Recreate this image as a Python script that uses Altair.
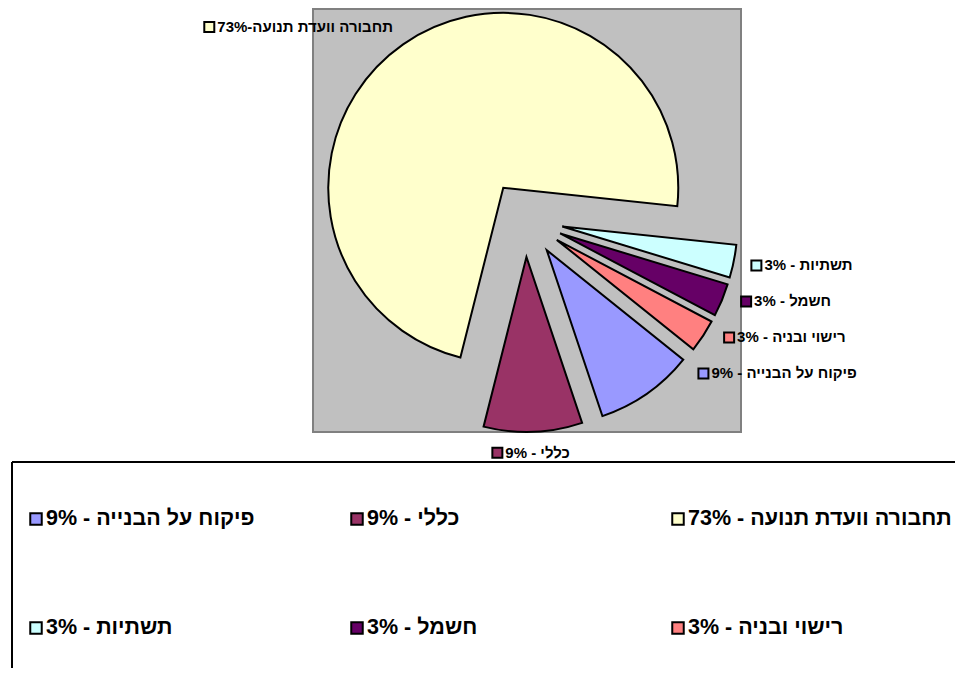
import math
import altair as alt
import pandas as pd

# ---- data ----
categories = ["תחבורה וועדת תנועה", "כללי", "פיקוח על הבנייה", "רישוי ובניה", "חשמל", "תשתיות"]
values = [24, 3, 3, 1, 1, 1]
colors = ["#FFFFCC", "#993366", "#9999FF", "#FF8080", "#660066", "#CCFFFF"]
data_labels = ["73%-תחבורה וועדת תנועה", "9% - כללי", "9% - פיקוח על הבנייה",
               "3% - רישוי ובניה", "3% - חשמל", "3% - תשתיות"]

total = sum(values)
pcts = [round(100 * v / total) for v in values]
legend_labels = [f"{p}% - {c}" for p, c in zip(pcts, categories)]

df = pd.DataFrame({
    "order": list(range(len(categories))),
    "category": categories,
    "value": values,
    "data_label": data_labels,
    "legend_label": legend_labels,
})

# ---- layout constants (pixels in chart space) ----
W, H = 947, 660
CX, CY = 517, 211          # pie centre
R = 175                    # pie radius
EXPLODE = 38               # slice explosion distance
A0 = math.radians(96)      # first slice starts here, drawn counter-clockwise
LR = 196                   # label distance from exploded centre
RL2 = 236                  # right-side stacked label circle
STEP = 36                  # right-side label spacing
CHAR_W = 7.9
FONT = "Arial, Liberation Sans, DejaVu Sans, sans-serif"

base = (
    alt.Chart(df)
    .transform_joinaggregate(total="sum(value)")
    .transform_window(cum_end="sum(value)", sort=[alt.SortField("order", order="ascending")], frame=[None, 0])
    .transform_calculate(cum_start="datum.cum_end - datum.value")
    .transform_calculate(mid=f"{A0} - PI*(datum.cum_start + datum.cum_end)/datum.total")
    .transform_calculate(
        cx=f"{CX} + {EXPLODE}*sin(datum.mid)",
        cy=f"{CY} - {EXPLODE}*cos(datum.mid)",
    )
    .transform_calculate(
        lx_nat=f"datum.cx + {LR}*sin(datum.mid)",
        ly_nat=f"datum.cy - {LR}*cos(datum.mid)",
        side="sin(datum.mid) > 0.2 ? 'R' : (sin(datum.mid) < -0.2 ? 'L' : 'C')",
        tw=f"length(datum.data_label)*{CHAR_W}",
    )
    .transform_window(
        rank="row_number()", y_first="first_value(ly_nat)",
        groupby=["side"], sort=[alt.SortField("ly_nat", order="ascending")], frame=[None, None],
    )
    .transform_calculate(
        ly=f"datum.side == 'R' ? datum.y_first + (datum.rank - 1)*{STEP} : datum.ly_nat"
    )
    .transform_calculate(
        box_left=(
            f"datum.side == 'R' ? ({CX} + sqrt({RL2}*{RL2} - pow(datum.ly - {CY}, 2)) - 6)"
            f" : (datum.side == 'L' ? datum.lx_nat - datum.tw - 14 : datum.lx_nat - (datum.tw + 14)/2)"
        )
    )
    .transform_calculate(sq_x="datum.box_left + 6", tx_x="datum.box_left + 14")
)

color = alt.Color("category:N", scale=alt.Scale(domain=categories, range=colors), legend=None)

one = pd.DataFrame({"k": [0]})
plot_bg = alt.Chart(one).mark_rect(fill="#C0C0C0", stroke="#808080", strokeWidth=2).encode(
    x=alt.value(305), x2=alt.value(733), y=alt.value(1), y2=alt.value(424)
)
# legend frame: only the top and left edges are inside the picture
legend_fill = alt.Chart(one).mark_rect(fill="white").encode(
    x=alt.value(4), x2=alt.value(W), y=alt.value(454), y2=alt.value(H)
)
legend_top = alt.Chart(one).mark_rule(color="black", strokeWidth=2).encode(
    x=alt.value(4), x2=alt.value(W), y=alt.value(454)
)
legend_left = alt.Chart(one).mark_rule(color="black", strokeWidth=2).encode(
    x=alt.value(4), y=alt.value(454), y2=alt.value(H)
)

arcs = base.mark_arc(radius=R, stroke="black", strokeWidth=2).encode(
    theta=alt.Theta("cum_start:Q", stack=False,
                    scale=alt.Scale(domain=[0, total], range=[A0, A0 - 2 * math.pi], nice=False)),
    theta2="cum_end:Q",
    x=alt.X("cx:Q", scale=None),
    y=alt.Y("cy:Q", scale=None),
    color=color,
)

lab_sq = base.mark_square(size=100, stroke="black", strokeWidth=2, opacity=1).encode(
    x=alt.X("sq_x:Q", scale=None), y=alt.Y("ly:Q", scale=None), color=color
)
lab_txt = base.mark_text(align="left", baseline="middle", font=FONT, fontSize=15,
                         fontWeight="bold", color="black").encode(
    x=alt.X("tx_x:Q", scale=None), y=alt.Y("ly:Q", scale=None), text="data_label:N"
)

# legend (3 columns, right-to-left, 2 rows)
LEG_X0, LEG_DX, LEG_Y0, LEG_DY = 670, 321, 511, 109
leg = alt.Chart(df).transform_calculate(
    lgx=f"{LEG_X0} - (datum.order % 3)*{LEG_DX}",
    lgy=f"{LEG_Y0} + floor(datum.order / 3)*{LEG_DY}",
)
leg_sq = leg.mark_square(size=132, stroke="black", strokeWidth=2, opacity=1).encode(
    x=alt.X("lgx:Q", scale=None), y=alt.Y("lgy:Q", scale=None), color=color
)
leg_txt = leg.mark_text(align="left", baseline="middle", font=FONT, fontSize=21.5,
                        fontWeight="bold", color="black", dx=10).encode(
    x=alt.X("lgx:Q", scale=None), y=alt.Y("lgy:Q", scale=None), text="legend_label:N"
)

chart = alt.layer(plot_bg, legend_fill, legend_top, legend_left, arcs, lab_sq, lab_txt,
                  leg_sq, leg_txt).properties(
    width=W, height=H, autosize=alt.AutoSizeParams(type="none"), padding=0, background="white"
).configure_view(strokeWidth=0)

chart.save("out.html", embed_options={"renderer": "svg", "actions": False})
